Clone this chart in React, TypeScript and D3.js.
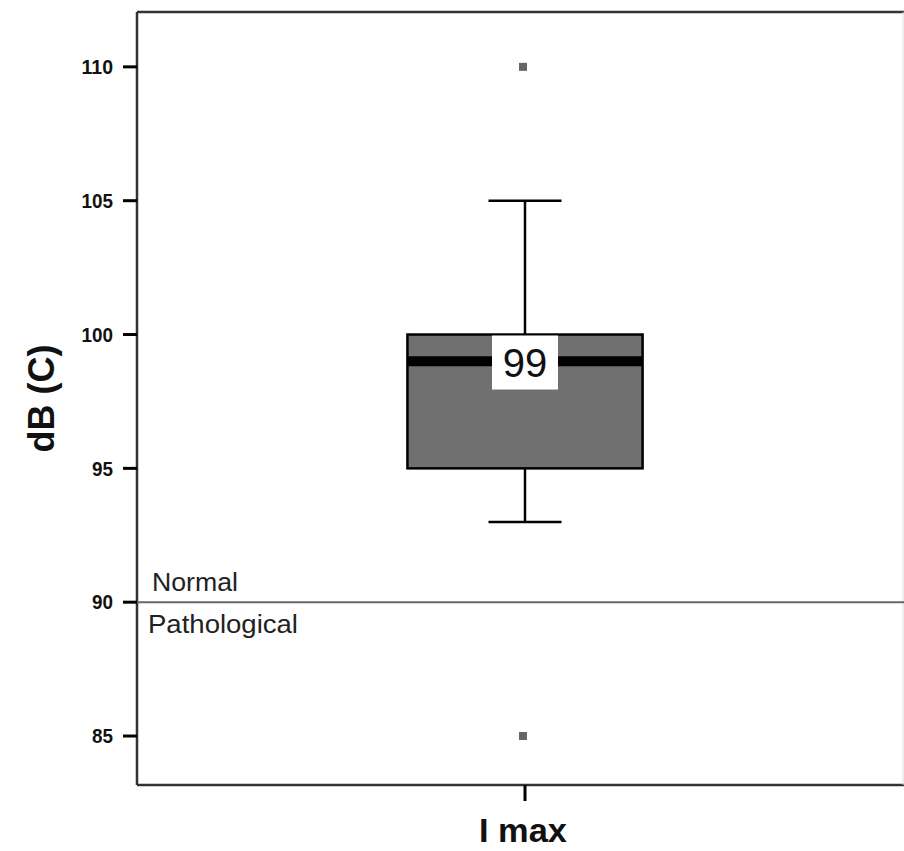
import * as d3 from "d3";

// box plot summary (dB (C), I max)
const categories = ["I max"];
const q1 = [95];
const median = [99];
const q3 = [100];
const whiskerLow = [93];
const whiskerHigh = [105];
const outliers = [[110, 85]];
const yTicks = [85, 90, 95, 100, 105, 110];
const threshold = 90;

export default function App() {
  const width = 904;
  const height = 851;
  const margin = { top: 12, right: 0, bottom: 66, left: 137 };

  const y = d3
    .scaleLinear()
    .domain([83.17, 112.05])
    .range([height - margin.bottom, margin.top]);

  const x = d3
    .scaleBand()
    .domain(categories)
    .range([margin.left, width + 9])
    .paddingOuter(1.15);

  const bw = x.bandwidth();
  const capW = 73;
  const sans = "'Liberation Sans', Arial, sans-serif";
  const plotRight = width - margin.right;
  const plotBottom = height - margin.bottom;

  return (
    <svg
      width={width}
      height={height}
      style={{ position: "absolute", left: 0, top: 0, background: "#fff" }}
    >
      {/* frame (right edge cropped in the original) */}
      <g stroke="#333" strokeWidth={2.5}>
        <line x1={margin.left} x2={plotRight} y1={margin.top} y2={margin.top} />
        <line x1={margin.left} x2={plotRight} y1={plotBottom} y2={plotBottom} />
        <line x1={margin.left} x2={margin.left} y1={margin.top} y2={plotBottom} />
      </g>
      <line x1={plotRight - 1} x2={plotRight - 1} y1={margin.top} y2={plotBottom} stroke="#ddd" strokeWidth={1} />

      {/* y axis ticks */}
      {yTicks.map((t) => (
        <g key={t}>
          <line x1={margin.left - 14} x2={margin.left} y1={y(t)} y2={y(t)} stroke="#000" strokeWidth={3} />
          <text
            x={margin.left - 24}
            y={y(t)}
            dy="0.36em"
            textAnchor="end"
            fontFamily={sans}
            fontWeight="bold"
            fontSize={20}
            fill="#111"
            textLength={String(t).length * 10.5}
            lengthAdjust="spacingAndGlyphs"
          >
            {t}
          </text>
        </g>
      ))}

      {/* normal / pathological threshold */}
      <line x1={margin.left} x2={plotRight} y1={y(threshold)} y2={y(threshold)} stroke="#666" strokeWidth={2} />
      <text x={margin.left + 15} y={y(threshold) - 11} fontFamily={sans} fontSize={25} fill="#222" textLength={86} lengthAdjust="spacingAndGlyphs">
        Normal
      </text>
      <text x={margin.left + 11} y={y(threshold) + 31} fontFamily={sans} fontSize={25} fill="#222" textLength={150} lengthAdjust="spacingAndGlyphs">
        Pathological
      </text>

      {categories.map((c, i) => {
        const x0 = x(c) as number;
        const cx = x0 + bw / 2;
        return (
          <g key={c}>
            {/* whiskers */}
            <line x1={cx} x2={cx} y1={y(whiskerHigh[i])} y2={y(q3[i])} stroke="#000" strokeWidth={2.5} />
            <line x1={cx} x2={cx} y1={y(q1[i])} y2={y(whiskerLow[i])} stroke="#000" strokeWidth={2.5} />
            <line x1={cx - capW / 2} x2={cx + capW / 2} y1={y(whiskerHigh[i])} y2={y(whiskerHigh[i])} stroke="#000" strokeWidth={2.5} />
            <line x1={cx - capW / 2} x2={cx + capW / 2} y1={y(whiskerLow[i])} y2={y(whiskerLow[i])} stroke="#000" strokeWidth={2.5} />
            {/* box */}
            <rect
              x={x0}
              y={y(q3[i])}
              width={bw}
              height={y(q1[i]) - y(q3[i])}
              fill="#707070"
              stroke="#000"
              strokeWidth={2.5}
            />
            <line x1={x0} x2={x0 + bw} y1={y(median[i])} y2={y(median[i])} stroke="#000" strokeWidth={10} />
            {/* median label */}
            <rect x={cx - 33} y={y(q3[i]) + 1} width={66} height={54} fill="#fff" />
            <text x={cx} y={y(median[i]) + 16} textAnchor="middle" fontFamily={sans} fontSize={40} fill="#111">
              {median[i]}
            </text>
            {/* outliers */}
            {outliers[i].map((o) => (
              <rect key={o} x={cx - 6} y={y(o) - 4} width={8} height={8} fill="#666" />
            ))}
            {/* x tick */}
            <line x1={cx} x2={cx} y1={plotBottom} y2={plotBottom + 16} stroke="#000" strokeWidth={3} />
            <text
              x={cx - 2}
              y={plotBottom + 57}
              textAnchor="middle"
              fontFamily={sans}
              fontWeight="bold"
              fontSize={34}
              fill="#111"
              textLength={88}
              lengthAdjust="spacingAndGlyphs"
            >
              {c}
            </text>
          </g>
        );
      })}

      {/* y axis title */}
      <text
        transform={`translate(54, ${(margin.top + plotBottom) / 2}) rotate(-90)`}
        textAnchor="middle"
        fontFamily={sans}
        fontWeight="bold"
        fontSize={36}
        fill="#111"
      >
        dB (C)
      </text>
    </svg>
  );
}
